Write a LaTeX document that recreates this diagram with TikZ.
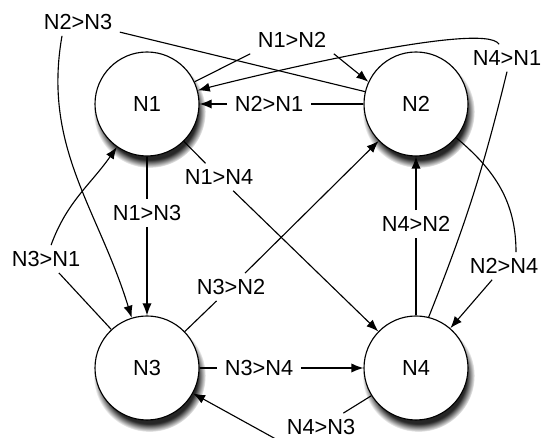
\documentclass[tikz,border=0pt]{standalone}
\usepackage{fontspec}
\setmainfont{Liberation Sans}
\usetikzlibrary{arrows.meta,shadows}

\begin{document}
\begin{tikzpicture}[line width=0.8pt, font=\fontsize{15.5}{17}\selectfont,
  state/.style={circle, draw, fill=white, minimum size=2.6cm,
    circular drop shadow={shadow xshift=0.6mm, shadow yshift=-1.8mm, shadow scale=1.08, fill=black!85}},
  lbl/.style={inner xsep=5pt, inner ysep=4pt},
  arr/.style={-{Latex[length=3mm,width=2.3mm]}}]
  \useasboundingbox (0,0) rectangle (13.6,10.95);
  \node[state] (N1) at (3.675,8.35) {N1};
  \node[state] (N2) at (10.4,8.35) {N2};
  \node[state] (N3) at (3.675,1.75) {N3};
  \node[state] (N4) at (10.4,1.75) {N4};
  \node[lbl] (l12) at (7.3,9.95) {N1>N2};
  \node[lbl] (l21) at (6.725,8.35) {N2>N1};
  \node[lbl] (l23) at (1.95,10.4) {N2>N3};
  \node[lbl] (l41) at (12.675,9.5) {N4>N1};
  \node[lbl] (l14) at (5.475,6.525) {N1>N4};
  \node[lbl] (l13) at (3.675,5.625) {N1>N3};
  \node[lbl] (l31) at (1.15,4.475) {N3>N1};
  \node[lbl] (l32) at (5.775,3.775) {N3>N2};
  \node[lbl] (l34) at (6.475,1.75) {N3>N4};
  \node[lbl] (l43) at (8.025,0.275) {N4>N3};
  \node[lbl] (l42) at (10.4,5.35) {N4>N2};
  \node[lbl] (l24) at (12.6,4.3) {N2>N4};
  \draw (N1.25) -- (l12.south west);
  \draw[arr] (l12.south east) -- (N2.155);
  \draw (N2) -- (l21);
  \draw[arr] (l21) -- (N1);
  \draw (N2) -- (l23);
  \draw[arr] ([xshift=-4mm]l23.south) to[out=-100,in=107] (N3.107);
  \draw (N1) -- (l13);
  \draw[arr] (l13) -- (N3);
  \draw (N1) -- (l14);
  \draw[arr] (l14) -- (N4);
  \draw (N3) -- (l31);
  \draw[arr] (l31) to[out=70,in=-125] (N1);
  \draw (N3) -- (l32);
  \draw[arr] (l32) -- (N2);
  \draw (N3) -- (l34);
  \draw[arr] (l34) -- (N4);
  \draw (N4) -- (l43);
  \draw[arr] (l43.south west) -- (N3);
  \draw (N4) -- (l42);
  \draw[arr] (l42) -- (N2);
  \draw (N2) to[out=-40,in=90] ([xshift=3mm]l24.north);
  \draw[arr] (l24) -- (N4);
  \draw (N4.76) to[bend right=4] (l41.south);
  \draw[arr] (l41) to[out=120,in=15,looseness=0.25] (N1);
\end{tikzpicture}
\end{document}
